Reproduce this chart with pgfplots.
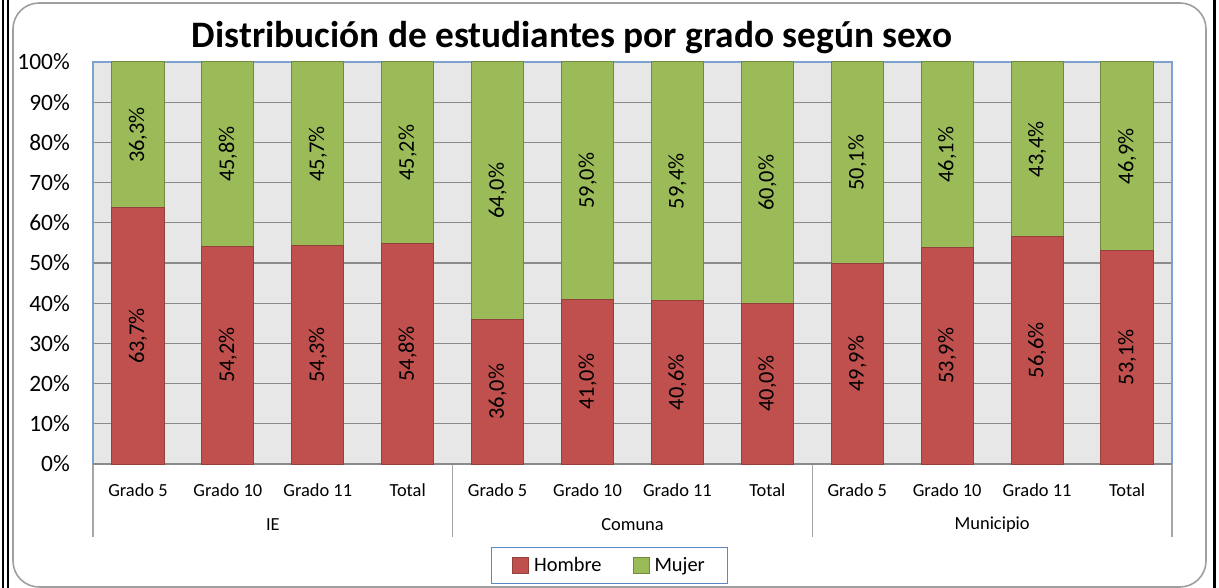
\documentclass[border=0pt]{standalone}
\usepackage{fontspec}
\setmainfont{Carlito}
\usepackage{pgfplots}
\pgfplotsset{compat=1.18}
\definecolor{hred}{HTML}{C0504D}
\definecolor{hredd}{HTML}{94403D}
\definecolor{mgreen}{HTML}{9BBB59}
\definecolor{mgreend}{HTML}{72893F}
\definecolor{plotbg}{HTML}{E7E7E7}
\definecolor{gridg}{HTML}{8A8A8A}
\definecolor{plotblue}{HTML}{7DA2D0}
\definecolor{legblue}{HTML}{5A88C2}
\definecolor{sepg}{HTML}{A6A6A6}
\begin{document}
\begin{tikzpicture}
\useasboundingbox (0,0) rectangle (1219bp,588bp);
% marco del grafico
\draw[gray!75,line width=1.6bp,rounded corners=26bp] (13bp,1bp) rectangle (1206bp,585bp);
\draw[black,line width=2bp] (2.5bp,0) -- (2.5bp,588bp) (7.5bp,0) -- (7.5bp,588bp);
\draw[black,line width=3bp] (1214bp,0) -- (1214bp,588bp);
\node[font=\fontsize{37.5}{42}\selectfont\bfseries] at (572bp,550bp) {Distribución de estudiantes por grado según sexo};
\pgfplotsset{base/.style={at={(93bp,124bp)},anchor=south west,scale only axis,width=1079bp,height=402bp,
 xmin=-0.5,xmax=11.5,ymin=0,ymax=100}}
\begin{axis}[base,ybar stacked,bar width=0.58,clip=false,
 xtick={0,...,11},
 xticklabels={Grado 5,Grado 10,Grado 11,Total,Grado 5,Grado 10,Grado 11,Total,Grado 5,Grado 10,Grado 11,Total},
 ytick={0,10,...,100},yticklabel={\pgfmathprintnumber{\tick}\%},
 /pgf/number format/assume math mode=true,
 major tick length=0pt,
 ymajorgrids,grid style={gridg,line width=1.2bp},
 axis line style={plotblue,line width=1.2bp},
 axis background/.style={fill=plotbg},
 yticklabel style={font=\fontsize{23.5}{25}\selectfont,anchor=east,inner sep=0pt,xshift=-23bp},
 xticklabel style={font=\fontsize{18.5}{20}\selectfont,anchor=base,inner sep=0pt,yshift=-32bp},
 legend style={draw=legblue,line width=1.2bp,at={(0.4787,-0.2525)},anchor=center,
  legend columns=2,font=\fontsize{20.5}{22}\selectfont,inner xsep=21bp,inner ysep=8bp,
  /tikz/every even column/.append style={column sep=29bp}},
 legend image code/.code={\draw[#1,line width=0.8bp] (0bp,-8bp) rectangle (16bp,8bp);\path (19bp,0bp);},
 legend cell align=left]
\addplot[fill=hred,draw=hredd,line width=1bp] coordinates {(0,63.7)(1,54.2)(2,54.3)(3,54.8)(4,36.0)(5,41.0)(6,40.6)(7,40.0)(8,49.9)(9,53.9)(10,56.6)(11,53.1)};
\addlegendentry{Hombre}
\addplot[fill=mgreen,draw=mgreend,line width=1bp] coordinates {(0,36.3)(1,45.8)(2,45.7)(3,45.2)(4,64.0)(5,59.0)(6,59.4)(7,60.0)(8,50.1)(9,46.1)(10,43.4)(11,46.9)};
\addlegendentry{Mujer}
\draw[gridg,line width=1.5bp] (axis cs:-0.5,0) -- (axis cs:11.5,0);
\draw[sepg,line width=1.5bp] (axis cs:-0.5,0) -- ([yshift=-73bp]axis cs:-0.5,0);
\draw[sepg,line width=1.5bp] (axis cs:3.5,0) -- ([yshift=-73bp]axis cs:3.5,0);
\draw[sepg,line width=1.5bp] (axis cs:7.5,0) -- ([yshift=-73bp]axis cs:7.5,0);
\draw[sepg,line width=1.5bp] (axis cs:11.5,0) -- ([yshift=-73bp]axis cs:11.5,0);
\node[font=\fontsize{18.5}{20}\selectfont] at ([yshift=-61bp]axis cs:1.5,0) {IE};
\node[font=\fontsize{18.5}{20}\selectfont] at ([yshift=-61bp]axis cs:5.5,0) {Comuna};
\node[font=\fontsize{18.5}{20}\selectfont] at ([yshift=-61bp]axis cs:9.5,0) {Municipio};
\end{axis}
% etiquetas de datos
\begin{axis}[base,hide axis,
 nodes near coords,point meta=explicit symbolic,
 nodes near coords style={rotate=90,anchor=center,inner sep=0pt,font=\fontsize{22.5}{24}\selectfont}]
\addplot[only marks,mark=none] coordinates {
(0,31.85)[63,7\%] (1,27.1)[54,2\%] (2,27.15)[54,3\%] (3,27.4)[54,8\%]
(4,18)[36,0\%] (5,20.5)[41,0\%] (6,20.3)[40,6\%] (7,20)[40,0\%]
(8,24.95)[49,9\%] (9,26.95)[53,9\%] (10,28.3)[56,6\%] (11,26.55)[53,1\%]};
\addplot[only marks,mark=none] coordinates {
(0,81.85)[36,3\%] (1,77.1)[45,8\%] (2,77.15)[45,7\%] (3,77.4)[45,2\%]
(4,68)[64,0\%] (5,70.5)[59,0\%] (6,70.3)[59,4\%] (7,70)[60,0\%]
(8,74.95)[50,1\%] (9,76.95)[46,1\%] (10,78.3)[43,4\%] (11,76.55)[46,9\%]};
\end{axis}
\end{tikzpicture}
\end{document}
